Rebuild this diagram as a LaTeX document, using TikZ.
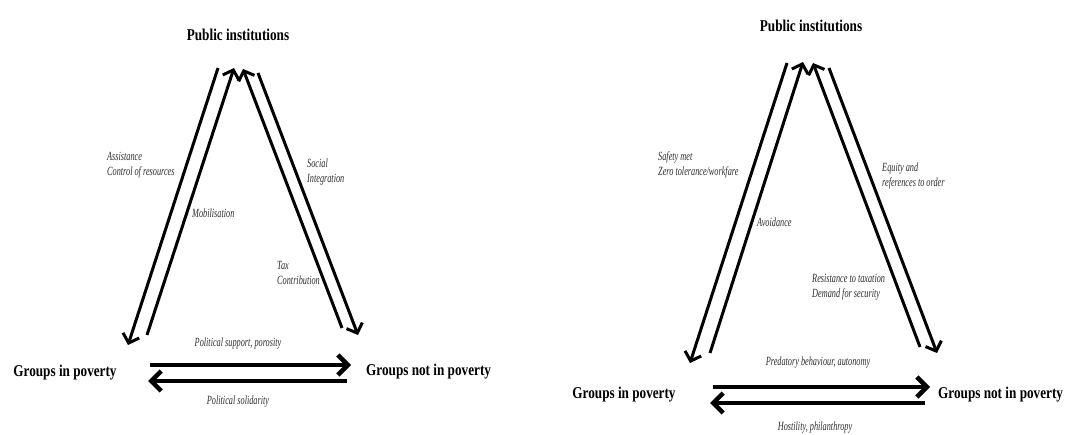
\documentclass[tikz,border=0pt]{standalone}
\usepackage{fontspec}
\setmainfont{Liberation Serif}
\newfontfamily\headfont[FakeStretch=0.8]{Liberation Serif}
\newfontfamily\lblfont[FakeStretch=0.66]{Liberation Serif}
\usetikzlibrary{arrows.meta}
\definecolor{ink}{RGB}{0,0,0}
\definecolor{labelgray}{RGB}{45,45,45}
\tikzset{
  actor/.style={font=\headfont\bfseries\fontsize{16.5}{18}\selectfont, inner sep=0pt},
  lbl/.style={font=\lblfont\itshape\fontsize{12.5}{15}\selectfont, text=labelgray,
              align=left, inner sep=0pt},
  arr/.style={-{Straight Barb[length=8pt,width=17pt]}, line width=3pt, color=ink},
  harr/.style={-{Straight Barb[length=10pt,width=20pt]}, line width=4.5pt, color=ink},
}
\begin{document}
\begin{tikzpicture}[x=1pt, y=-1pt]
  \useasboundingbox (0,0) rectangle (1081,435);
  % left triangle
  \node[actor] (pubL) at (238,35) {Public institutions};
  \node[actor] (poorL) at (65,373) {Groups in poverty};
  \node[actor, anchor=west] (richL) at (366,372) {Groups not in poverty};
  \coordinate (l1a) at (218,68);  \coordinate (l1b) at (128,345);
  \coordinate (l2a) at (147,335); \coordinate (l2b) at (234,68);
  \coordinate (l3a) at (342,328); \coordinate (l3b) at (243,69);
  \coordinate (l4a) at (258,73);  \coordinate (l4b) at (358,335);
  \coordinate (l5a) at (150,365); \coordinate (l5b) at (351,365);
  \coordinate (l6a) at (347,381); \coordinate (l6b) at (148,381);
  \draw[arr] (l1a) -- (l1b);
  \draw[arr] (l2a) -- (l2b);
  \draw[arr] (l3a) -- (l3b);
  \draw[arr] (l4a) -- (l4b);
  \draw[harr] (l5a) -- (l5b);
  \draw[harr] (l6a) -- (l6b);
  \node[lbl, anchor=west] (assist) at (107,165) {Assistance\\Control of resources};
  \node[lbl, anchor=west] (mobil) at (192,213) {Mobilisation};
  \node[lbl, anchor=west] (social) at (307,172) {Social\\Integration};
  \node[lbl, anchor=west] (tax) at (277,273) {Tax\\Contribution};
  \node[lbl] (support) at (238,344) {Political support, porosity};
  \node[lbl] (solid) at (238,402) {Political solidarity};
  % right triangle
  \node[actor] (pubR) at (811,26) {Public institutions};
  \node[actor] (poorR) at (624,395) {Groups in poverty};
  \node[actor, anchor=west] (richR) at (938,395) {Groups not in poverty};
  \coordinate (r1a) at (787,63);  \coordinate (r1b) at (690,363);
  \coordinate (r2a) at (710,353); \coordinate (r2b) at (803,62);
  \coordinate (r3a) at (920,347); \coordinate (r3b) at (813,63);
  \coordinate (r4a) at (829,68);  \coordinate (r4b) at (937,353);
  \coordinate (r5a) at (713,387); \coordinate (r5b) at (930,387);
  \coordinate (r6a) at (925,403); \coordinate (r6b) at (710,403);
  \draw[arr] (r1a) -- (r1b);
  \draw[arr] (r2a) -- (r2b);
  \draw[arr] (r3a) -- (r3b);
  \draw[arr] (r4a) -- (r4b);
  \draw[harr] (r5a) -- (r5b);
  \draw[harr] (r6a) -- (r6b);
  \node[lbl, anchor=west] (safety) at (658,165) {Safety met\\Zero tolerance/workfare};
  \node[lbl, anchor=west] (avoid) at (757,222) {Avoidance};
  \node[lbl, anchor=west] (equity) at (882,176) {Equity and\\references to order};
  \node[lbl, anchor=west] (resist) at (812,287) {Resistance to taxation\\Demand for security};
  \node[lbl] (predat) at (818,363) {Predatory behaviour, autonomy};
  \node[lbl] (hostil) at (815,428) {Hostility, philanthropy};
\end{tikzpicture}
\end{document}
